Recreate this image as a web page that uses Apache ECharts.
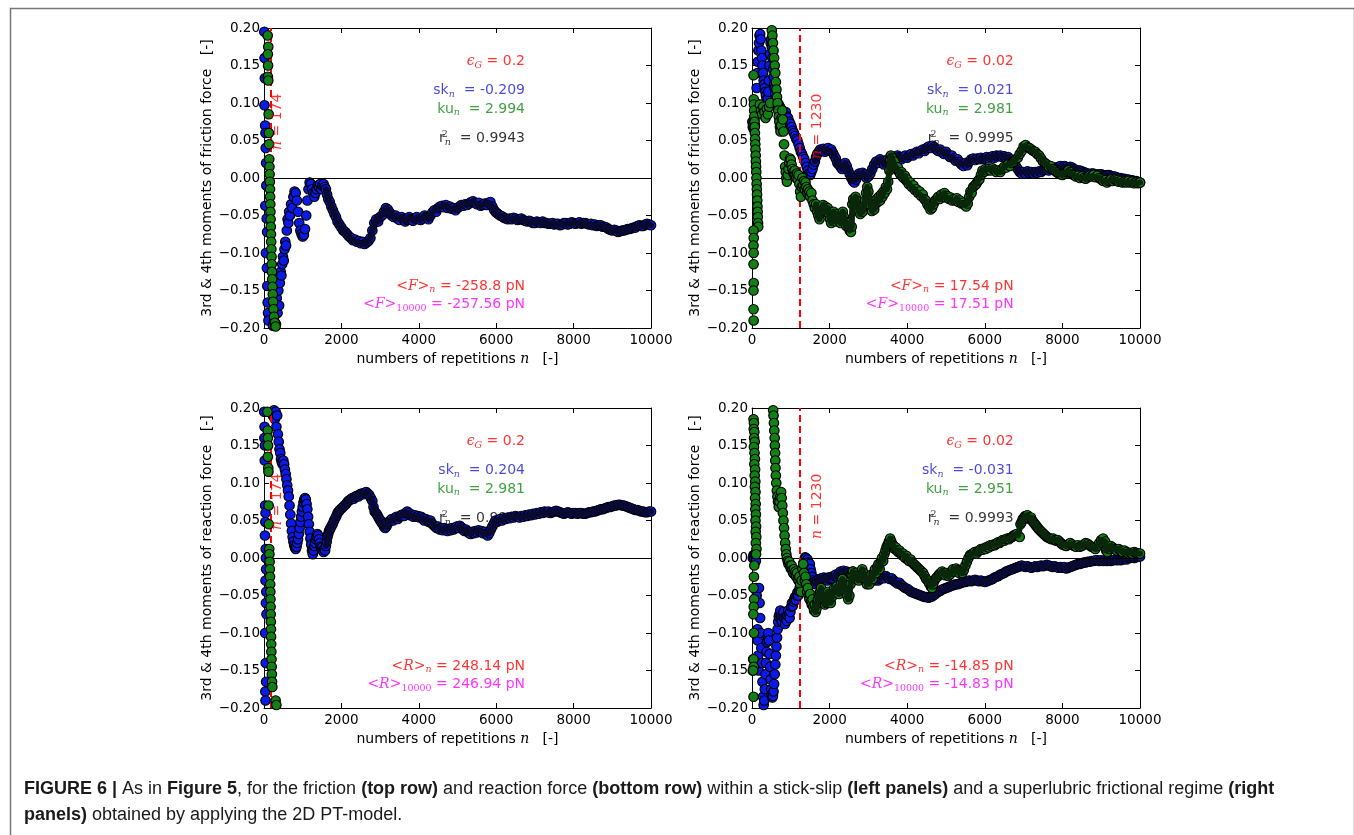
<!DOCTYPE html>
<html>
<head>
<meta charset="utf-8">
<script src="https://cdn.jsdelivr.net/npm/echarts@6/dist/echarts.min.js"></script>
<style>
html,body{margin:0;padding:0;background:#fff;}
#chart{width:1354px;height:835px;}
</style>
</head>
<body>
<div id="chart"></div>
<script>
// ---- running 3rd (skewness) and 4th (kurtosis) moment estimates, [n, value] ----
// "...0" arrays hold the scattered first repetitions, the others the running trajectory.

// friction force, stick-slip regime (epsilon_G = 0.2)
const skF_stick0 = [[8,0.195],[15,0.16],[22,0.133],[12,0.097],[30,0.07],[38,0.06],[45,0.04],[55,0.02],[60,-0.01],[35,-0.037],[70,-0.054],[80,-0.072],[50,-0.1],[75,-0.12],[85,-0.144],[95,-0.166],[105,-0.18],[115,-0.19]];
const skF_stick = [[230,-0.197],[260,-0.19],[290,-0.175],[310,-0.195],[330,-0.16],[350,-0.18],[370,-0.15],[390,-0.17],[410,-0.14],[430,-0.125],[450,-0.13],[470,-0.115],[490,-0.105],[510,-0.11],[530,-0.095],[550,-0.085],[570,-0.09],[590,-0.07],[610,-0.055],[630,-0.06],[650,-0.045],[670,-0.05],[700,-0.035],[730,-0.04],[760,-0.025],[790,-0.018],[820,-0.02],[850,-0.03],[880,-0.045],[910,-0.06],[940,-0.07],[970,-0.075],[1000,-0.078],[1030,-0.076],[1060,-0.068],[1090,-0.05],[1120,-0.03],[1150,-0.015],[1180,-0.006],[1210,-0.008],[1240,-0.015],[1270,-0.02],[1300,-0.025],[1330,-0.02],[1360,-0.015],[1390,-0.01],[1420,-0.012],[1450,-0.008],[1480,-0.015],[1510,-0.01],[1540,-0.008],[1570,-0.012],[1600,-0.015],[1630,-0.022],[1660,-0.028],[1700,-0.032],[1740,-0.038],[1780,-0.043],[1820,-0.048],[1860,-0.052],[1900,-0.058],[1950,-0.062],[2000,-0.066],[2050,-0.07],[2100,-0.072],[2150,-0.075],[2200,-0.078],[2250,-0.08],[2300,-0.083],[2350,-0.082],[2400,-0.085],[2450,-0.084],[2500,-0.087],[2550,-0.085],[2600,-0.088],[2650,-0.086],[2700,-0.084],[2750,-0.08],[2800,-0.07],[2850,-0.06],[2900,-0.055],[2950,-0.058],[3000,-0.052],[3050,-0.05],[3100,-0.045],[3150,-0.04],[3200,-0.042],[3250,-0.046],[3300,-0.05],[3350,-0.052],[3400,-0.05],[3450,-0.054],[3500,-0.056],[3550,-0.052],[3600,-0.055],[3650,-0.058],[3700,-0.056],[3750,-0.052],[3800,-0.055],[3850,-0.057],[3900,-0.054],[3950,-0.052],[4000,-0.055],[4050,-0.056],[4100,-0.054],[4150,-0.05],[4200,-0.052],[4250,-0.055],[4300,-0.05],[4350,-0.046],[4400,-0.043],[4450,-0.045],[4500,-0.04],[4550,-0.038],[4600,-0.037],[4650,-0.039],[4700,-0.036],[4750,-0.04],[4800,-0.038],[4850,-0.041],[4900,-0.04],[4950,-0.043],[5000,-0.04],[5050,-0.038],[5100,-0.036],[5150,-0.037],[5200,-0.035],[5250,-0.036],[5300,-0.034],[5350,-0.032],[5400,-0.031],[5450,-0.033],[5500,-0.035],[5550,-0.033],[5600,-0.037],[5650,-0.036],[5700,-0.034],[5750,-0.036],[5800,-0.033],[5850,-0.032],[5900,-0.038],[5950,-0.043],[6000,-0.046],[6050,-0.048],[6100,-0.05],[6150,-0.051],[6200,-0.053],[6250,-0.054],[6300,-0.055],[6350,-0.054],[6400,-0.055],[6450,-0.053],[6500,-0.054],[6550,-0.056],[6600,-0.055],[6650,-0.054],[6700,-0.056],[6750,-0.057],[6800,-0.058],[6850,-0.057],[6900,-0.058],[6950,-0.06],[7000,-0.06],[7050,-0.058],[7100,-0.059],[7150,-0.06],[7200,-0.058],[7250,-0.06],[7300,-0.06],[7350,-0.061],[7400,-0.061],[7450,-0.06],[7500,-0.062],[7550,-0.061],[7600,-0.061],[7650,-0.063],[7700,-0.062],[7750,-0.06],[7800,-0.06],[7850,-0.062],[7900,-0.061],[7950,-0.059],[8000,-0.06],[8050,-0.061],[8100,-0.06],[8150,-0.059],[8200,-0.061],[8250,-0.06],[8300,-0.06],[8350,-0.061],[8400,-0.062],[8450,-0.061],[8500,-0.063],[8550,-0.062],[8600,-0.064],[8650,-0.063],[8700,-0.063],[8750,-0.065],[8800,-0.065],[8850,-0.066],[8900,-0.068],[8950,-0.069],[9000,-0.07],[9050,-0.069],[9100,-0.07],[9150,-0.072],[9200,-0.071],[9250,-0.07],[9300,-0.07],[9350,-0.069],[9400,-0.068],[9450,-0.068],[9500,-0.067],[9550,-0.066],[9600,-0.066],[9650,-0.064],[9700,-0.063],[9750,-0.064],[9800,-0.064],[9850,-0.062],[9900,-0.061],[9950,-0.062],[10000,-0.063]];
const kuF_stick0 = [[95,0.19],[110,0.175],[100,0.165],[105,0.15],[100,0.135],[110,0.13],[120,0.085],[125,0.06],[130,0.045],[135,0.025],[140,0.015],[145,0.005],[150,-0.005],[155,-0.015],[158,-0.025],[162,-0.035],[166,-0.045],[170,-0.055],[175,-0.065],[180,-0.075],[185,-0.085],[190,-0.095],[195,-0.105],[200,-0.115],[205,-0.125],[212,-0.135],[220,-0.145],[228,-0.155],[236,-0.165],[245,-0.175],[260,-0.185],[280,-0.193],[300,-0.198]];
const kuF_stick = [];

// friction force, superlubric regime (epsilon_G = 0.02)
const skF_super0 = [];
const skF_super = [[10,0.075],[20,0.068],[30,0.072],[45,0.065],[60,0.078],[75,0.07],[90,0.085],[105,0.1],[120,0.12],[135,0.14],[150,0.155],[165,0.17],[180,0.18],[195,0.19],[210,0.192],[225,0.185],[240,0.17],[255,0.16],[270,0.15],[285,0.14],[300,0.13],[315,0.125],[330,0.12],[345,0.115],[360,0.11],[375,0.105],[390,0.1],[405,0.105],[420,0.115],[435,0.13],[450,0.15],[465,0.165],[480,0.18],[495,0.185],[510,0.175],[525,0.16],[540,0.145],[555,0.135],[570,0.125],[585,0.12],[600,0.113],[630,0.105],[660,0.1],[690,0.098],[720,0.095],[750,0.092],[780,0.09],[810,0.088],[840,0.085],[870,0.088],[900,0.082],[930,0.08],[960,0.075],[990,0.072],[1020,0.068],[1050,0.063],[1080,0.06],[1110,0.056],[1140,0.052],[1170,0.05],[1200,0.045],[1230,0.04],[1260,0.035],[1290,0.032],[1320,0.028],[1350,0.025],[1380,0.02],[1410,0.015],[1440,0.01],[1470,0.006],[1500,0.004],[1530,0.008],[1560,0.012],[1590,0.018],[1620,0.022],[1650,0.028],[1680,0.032],[1720,0.035],[1760,0.038],[1800,0.036],[1840,0.039],[1880,0.035],[1920,0.038],[1960,0.04],[2000,0.036],[2040,0.038],[2080,0.034],[2120,0.03],[2160,0.026],[2200,0.02],[2240,0.018],[2280,0.015],[2320,0.012],[2360,0.015],[2400,0.02],[2440,0.016],[2480,0.01],[2520,0.005],[2560,0.0],[2600,-0.004],[2640,-0.006],[2680,-0.002],[2720,0.004],[2760,0.006],[2800,0.004],[2850,0.007],[2900,0.005],[2950,0.0],[3000,0.002],[3050,0.006],[3100,0.012],[3150,0.018],[3200,0.022],[3250,0.02],[3300,0.025],[3350,0.022],[3400,0.018],[3450,0.022],[3500,0.025],[3550,0.02],[3600,0.024],[3650,0.028],[3700,0.026],[3750,0.03],[3800,0.028],[3850,0.025],[3900,0.028],[3950,0.03],[4000,0.027],[4050,0.03],[4100,0.032],[4150,0.03],[4200,0.033],[4250,0.035],[4300,0.033],[4350,0.036],[4400,0.038],[4450,0.036],[4500,0.04],[4550,0.042],[4600,0.04],[4650,0.043],[4700,0.041],[4750,0.038],[4800,0.036],[4850,0.038],[4900,0.034],[4950,0.032],[5000,0.035],[5050,0.031],[5100,0.028],[5150,0.03],[5200,0.026],[5250,0.023],[5300,0.025],[5350,0.021],[5400,0.018],[5450,0.016],[5500,0.02],[5550,0.017],[5600,0.022],[5650,0.025],[5700,0.026],[5750,0.024],[5800,0.026],[5850,0.025],[5900,0.027],[5950,0.025],[6000,0.026],[6050,0.028],[6100,0.026],[6150,0.028],[6200,0.029],[6250,0.027],[6300,0.03],[6350,0.029],[6400,0.03],[6450,0.028],[6500,0.029],[6550,0.027],[6600,0.028],[6650,0.025],[6700,0.022],[6750,0.02],[6800,0.016],[6850,0.012],[6900,0.008],[6950,0.006],[7000,0.008],[7050,0.006],[7100,0.009],[7150,0.007],[7200,0.008],[7250,0.006],[7300,0.008],[7350,0.007],[7400,0.009],[7450,0.008],[7500,0.01],[7550,0.011],[7600,0.012],[7650,0.01],[7700,0.012],[7750,0.013],[7800,0.014],[7850,0.012],[7900,0.015],[7950,0.016],[8000,0.014],[8050,0.016],[8100,0.015],[8150,0.013],[8200,0.015],[8250,0.014],[8300,0.012],[8350,0.011],[8400,0.01],[8450,0.01],[8500,0.009],[8550,0.008],[8600,0.007],[8650,0.006],[8700,0.005],[8750,0.006],[8800,0.006],[8850,0.005],[8900,0.004],[8950,0.005],[9000,0.005],[9050,0.004],[9100,0.003],[9150,0.004],[9200,0.004],[9250,0.003],[9300,0.002],[9350,0.002],[9400,0.001],[9450,0.0],[9500,0.0],[9550,-0.001],[9600,-0.001],[9650,-0.002],[9700,-0.002],[9750,-0.003],[9800,-0.003],[9850,-0.004],[9900,-0.004],[9950,-0.005],[10000,-0.006]];
const kuF_super0 = [[40,0.137],[45,0.105],[50,0.098],[55,0.09],[60,0.082],[65,0.075],[70,0.068],[75,0.06],[80,0.052],[85,0.045],[90,0.038],[95,0.03],[100,0.022],[105,0.015],[110,0.008],[115,0.0],[120,-0.008],[125,-0.015],[130,-0.022],[135,-0.03],[140,-0.038],[145,-0.045],[150,-0.052],[155,-0.06],[160,-0.065],[40,-0.07],[45,-0.08],[38,-0.09],[42,-0.1],[40,-0.115],[44,-0.14],[38,-0.15],[40,-0.175],[42,-0.19],
[200,0.098],[230,0.09],[260,0.085],[290,0.095],[320,0.088],[350,0.08],[380,0.092],[410,0.085],[440,0.095],[470,0.1]];
const kuF_super = [[510,0.197],[525,0.19],[540,0.18],[555,0.17],[570,0.16],[585,0.15],[600,0.14],[615,0.128],[630,0.118],[645,0.108],[660,0.1],[675,0.09],[690,0.082],[705,0.075],[720,0.068],[735,0.062],[750,0.07],[765,0.08],[780,0.09],[795,0.078],[810,0.062],[825,0.045],[840,0.03],[855,0.015],[870,0.008],[885,0.0],[900,-0.005],[920,0.004],[940,0.012],[960,0.02],[980,0.026],[1000,0.024],[1020,0.018],[1040,0.012],[1060,0.008],[1080,0.005],[1100,0.01],[1120,0.004],[1140,0.0],[1160,0.006],[1180,-0.002],[1200,0.004],[1220,-0.008],[1240,-0.018],[1260,-0.025],[1280,-0.012],[1300,0.0],[1320,-0.01],[1340,-0.004],[1360,-0.015],[1380,-0.006],[1400,-0.012],[1420,-0.02],[1440,-0.015],[1460,-0.022],[1480,-0.018],[1500,-0.025],[1530,-0.02],[1560,-0.03],[1590,-0.035],[1620,-0.04],[1650,-0.035],[1680,-0.045],[1710,-0.05],[1740,-0.055],[1770,-0.047],[1800,-0.04],[1830,-0.036],[1860,-0.042],[1890,-0.038],[1920,-0.045],[1950,-0.04],[1980,-0.048],[2010,-0.055],[2040,-0.06],[2070,-0.052],[2100,-0.045],[2130,-0.05],[2160,-0.058],[2190,-0.055],[2220,-0.048],[2250,-0.054],[2280,-0.06],[2310,-0.052],[2340,-0.045],[2370,-0.052],[2400,-0.058],[2430,-0.064],[2460,-0.06],[2490,-0.066],[2520,-0.07],[2550,-0.072],[2570,-0.065],[2585,-0.035],[2610,-0.028],[2640,-0.032],[2670,-0.025],[2700,-0.03],[2730,-0.038],[2760,-0.045],[2790,-0.048],[2820,-0.042],[2850,-0.045],[2880,-0.038],[2910,-0.03],[2940,-0.02],[2970,-0.012],[3000,-0.018],[3030,-0.03],[3060,-0.038],[3090,-0.044],[3120,-0.038],[3150,-0.042],[3180,-0.035],[3210,-0.028],[3240,-0.032],[3270,-0.025],[3300,-0.03],[3330,-0.022],[3360,-0.025],[3390,-0.018],[3420,-0.02],[3450,-0.012],[3480,-0.015],[3510,-0.005],[3540,0.01],[3560,0.025],[3580,0.03],[3610,0.027],[3640,0.02],[3670,0.022],[3700,0.015],[3730,0.012],[3760,0.014],[3790,0.008],[3820,0.005],[3850,0.008],[3880,0.002],[3910,0.0],[3940,0.003],[3970,-0.003],[4000,-0.002],[4040,-0.008],[4080,-0.006],[4120,-0.012],[4160,-0.01],[4200,-0.016],[4240,-0.015],[4280,-0.02],[4320,-0.018],[4360,-0.024],[4400,-0.022],[4440,-0.028],[4480,-0.03],[4520,-0.035],[4560,-0.038],[4600,-0.042],[4640,-0.04],[4680,-0.035],[4720,-0.03],[4760,-0.028],[4800,-0.025],[4840,-0.028],[4880,-0.022],[4920,-0.025],[4960,-0.02],[5000,-0.026],[5040,-0.024],[5080,-0.028],[5120,-0.026],[5160,-0.03],[5200,-0.028],[5240,-0.03],[5280,-0.027],[5320,-0.032],[5360,-0.03],[5400,-0.034],[5440,-0.033],[5480,-0.036],[5520,-0.038],[5560,-0.034],[5600,-0.025],[5630,-0.018],[5660,-0.02],[5700,-0.012],[5740,-0.01],[5780,-0.008],[5820,-0.004],[5860,-0.002],[5900,0.004],[5940,0.01],[5980,0.008],[6020,0.012],[6060,0.01],[6100,0.012],[6150,0.01],[6200,0.013],[6250,0.011],[6300,0.008],[6350,0.01],[6400,0.008],[6450,0.012],[6500,0.015],[6550,0.014],[6600,0.018],[6650,0.016],[6700,0.02],[6750,0.022],[6800,0.025],[6850,0.027],[6900,0.032],[6950,0.036],[7000,0.042],[7050,0.044],[7100,0.041],[7150,0.04],[7200,0.038],[7250,0.036],[7300,0.035],[7350,0.032],[7400,0.03],[7450,0.026],[7500,0.022],[7550,0.02],[7600,0.018],[7650,0.015],[7700,0.016],[7750,0.012],[7800,0.01],[7850,0.008],[7900,0.006],[7950,0.005],[8000,0.004],[8050,0.006],[8100,0.008],[8150,0.01],[8200,0.008],[8250,0.005],[8300,0.004],[8350,0.002],[8400,0.003],[8450,0.0],[8500,0.002],[8550,0.0],[8600,-0.001],[8650,0.001],[8700,0.003],[8750,0.002],[8800,0.004],[8850,0.001],[8900,0.003],[8950,0.0],[9000,-0.002],[9050,-0.004],[9100,-0.003],[9150,-0.006],[9200,-0.004],[9250,-0.002],[9300,-0.004],[9350,-0.002],[9400,-0.003],[9450,-0.005],[9500,-0.004],[9550,-0.006],[9600,-0.005],[9650,-0.006],[9700,-0.004],[9750,-0.006],[9800,-0.005],[9850,-0.007],[9900,-0.006],[9950,-0.007],[10000,-0.006]];

// reaction force, stick-slip regime (epsilon_G = 0.2)
const skR_stick0 = [[5,0.195],[15,0.175],[10,0.16],[25,0.15],[20,0.13],[30,0.07],[40,0.06],[35,0.048],[25,0.03],[45,0.012],[50,0.0],[55,-0.015],[40,-0.03],[60,-0.045],[50,-0.06],[65,-0.075],[30,-0.1],[45,-0.14],[55,-0.165],[35,-0.178],[40,-0.19]];
const skR_stick = [[200,0.195],[230,0.19],[260,0.197],[280,0.185],[300,0.195],[320,0.175],[340,0.19],[360,0.165],[380,0.155],[400,0.145],[420,0.14],[440,0.132],[460,0.128],[480,0.125],[500,0.13],[520,0.125],[540,0.118],[560,0.112],[580,0.105],[600,0.097],[620,0.09],[640,0.082],[660,0.07],[680,0.058],[700,0.046],[720,0.036],[740,0.028],[760,0.022],[780,0.017],[800,0.014],[820,0.012],[840,0.015],[860,0.02],[880,0.025],[900,0.032],[920,0.04],[940,0.048],[960,0.055],[980,0.062],[1000,0.068],[1020,0.074],[1040,0.078],[1060,0.08],[1080,0.078],[1100,0.072],[1120,0.065],[1140,0.055],[1160,0.045],[1180,0.035],[1200,0.026],[1220,0.018],[1240,0.01],[1260,0.005],[1280,0.01],[1300,0.016],[1320,0.02],[1340,0.025],[1360,0.028],[1380,0.032],[1400,0.03],[1420,0.025],[1440,0.02],[1460,0.015],[1480,0.012],[1500,0.014],[1520,0.01],[1540,0.008],[1560,0.012],[1580,0.01],[1600,0.016],[1620,0.022],[1640,0.028],[1660,0.032],[1680,0.036],[1700,0.038],[1720,0.04],[1750,0.043],[1780,0.046],[1810,0.05],[1840,0.053],[1870,0.056],[1900,0.06],[1930,0.062],[1960,0.064],[2000,0.066],[2040,0.068],[2080,0.07],[2120,0.072],[2160,0.075],[2200,0.077],[2240,0.078],[2280,0.08],[2320,0.079],[2360,0.082],[2400,0.083],[2440,0.082],[2480,0.085],[2520,0.086],[2560,0.085],[2600,0.087],[2640,0.088],[2680,0.086],[2720,0.084],[2760,0.08],[2800,0.076],[2830,0.068],[2860,0.062],[2890,0.06],[2920,0.058],[2950,0.055],[2980,0.052],[3010,0.05],[3040,0.047],[3070,0.045],[3100,0.042],[3130,0.04],[3160,0.042],[3190,0.045],[3220,0.048],[3260,0.05],[3300,0.052],[3340,0.05],[3380,0.053],[3420,0.055],[3460,0.052],[3500,0.055],[3540,0.057],[3580,0.058],[3620,0.056],[3660,0.06],[3700,0.062],[3740,0.06],[3780,0.057],[3820,0.058],[3860,0.055],[3900,0.057],[3940,0.055],[3980,0.056],[4020,0.054],[4060,0.055],[4100,0.053],[4140,0.05],[4180,0.052],[4220,0.05],[4260,0.048],[4300,0.05],[4340,0.046],[4380,0.044],[4420,0.042],[4460,0.04],[4500,0.042],[4540,0.038],[4580,0.04],[4620,0.037],[4660,0.04],[4700,0.038],[4740,0.036],[4780,0.039],[4820,0.037],[4860,0.04],[4900,0.038],[4940,0.04],[4980,0.042],[5020,0.04],[5060,0.043],[5100,0.041],[5140,0.038],[5180,0.036],[5220,0.038],[5260,0.035],[5300,0.033],[5340,0.032],[5380,0.035],[5420,0.033],[5460,0.036],[5500,0.034],[5540,0.037],[5580,0.035],[5620,0.036],[5660,0.033],[5700,0.035],[5740,0.032],[5780,0.03],[5820,0.033],[5860,0.038],[5900,0.042],[5940,0.046],[5980,0.05],[6020,0.048],[6060,0.05],[6100,0.052],[6150,0.05],[6200,0.053],[6250,0.052],[6300,0.054],[6350,0.053],[6400,0.055],[6450,0.054],[6500,0.056],[6550,0.055],[6600,0.054],[6650,0.056],[6700,0.055],[6750,0.057],[6800,0.056],[6850,0.058],[6900,0.057],[6950,0.059],[7000,0.058],[7050,0.06],[7100,0.059],[7150,0.061],[7200,0.06],[7250,0.062],[7300,0.061],[7350,0.062],[7400,0.06],[7450,0.061],[7500,0.062],[7550,0.063],[7600,0.062],[7650,0.061],[7700,0.06],[7750,0.059],[7800,0.06],[7850,0.061],[7900,0.06],[7950,0.059],[8000,0.06],[8050,0.06],[8100,0.059],[8150,0.06],[8200,0.06],[8250,0.059],[8300,0.059],[8350,0.06],[8400,0.061],[8450,0.061],[8500,0.062],[8550,0.062],[8600,0.063],[8650,0.064],[8700,0.065],[8750,0.065],[8800,0.066],[8850,0.067],[8900,0.068],[8950,0.068],[9000,0.069],[9050,0.07],[9100,0.07],[9150,0.071],[9200,0.071],[9250,0.07],[9300,0.07],[9350,0.069],[9400,0.068],[9450,0.067],[9500,0.066],[9550,0.065],[9600,0.064],[9650,0.064],[9700,0.063],[9750,0.062],[9800,0.062],[9850,0.061],[9900,0.061],[9950,0.062],[10000,0.062]];
const kuR_stick0 = [[90,0.195],[95,0.17],[100,0.16],[105,0.15],[100,0.135],[110,0.12],[115,0.115],[120,0.07],[125,0.045],[135,0.012],[140,0.005],[145,-0.005],[150,-0.015],[155,-0.025],[160,-0.035],[163,-0.045],[166,-0.055],[170,-0.065],[173,-0.075],[176,-0.085],[180,-0.095],[183,-0.105],[186,-0.115],[190,-0.125],[194,-0.135],[198,-0.145],[203,-0.155],[208,-0.165],[215,-0.172],[300,-0.19],[320,-0.196]];
const kuR_stick = [];

// reaction force, superlubric regime (epsilon_G = 0.02)
const skR_super0 = [[20,0.0],[40,0.004],[60,-0.002],[80,0.005],[100,-0.004],[110,-0.04],[120,-0.05],[130,-0.06],[140,-0.095],[150,-0.11],[160,-0.13],[170,-0.15],[30,-0.135],[20,-0.15]];
const skR_super = [[180,-0.04],[195,-0.06],[210,-0.08],[225,-0.1],[240,-0.12],[255,-0.14],[270,-0.165],[285,-0.185],[300,-0.196],[315,-0.19],[330,-0.175],[345,-0.155],[360,-0.14],[375,-0.125],[390,-0.112],[405,-0.105],[420,-0.1],[435,-0.11],[450,-0.128],[465,-0.145],[480,-0.162],[495,-0.175],[510,-0.182],[525,-0.186],[540,-0.184],[555,-0.178],[570,-0.168],[585,-0.155],[600,-0.142],[615,-0.13],[630,-0.118],[645,-0.106],[660,-0.095],[675,-0.085],[690,-0.078],[710,-0.075],[730,-0.07],[750,-0.078],[770,-0.085],[790,-0.078],[810,-0.072],[830,-0.08],[850,-0.088],[870,-0.08],[890,-0.084],[910,-0.076],[930,-0.07],[950,-0.075],[970,-0.08],[990,-0.072],[1010,-0.065],[1030,-0.06],[1050,-0.064],[1070,-0.058],[1090,-0.055],[1110,-0.052],[1130,-0.056],[1150,-0.05],[1170,-0.046],[1190,-0.05],[1210,-0.044],[1230,-0.04],[1250,-0.035],[1270,-0.028],[1290,-0.02],[1310,-0.012],[1330,-0.006],[1350,-0.002],[1370,0.001],[1390,0.0],[1410,-0.004],[1430,-0.002],[1450,-0.006],[1470,-0.01],[1490,-0.008],[1510,-0.015],[1530,-0.02],[1550,-0.025],[1570,-0.03],[1590,-0.034],[1610,-0.032],[1640,-0.035],[1670,-0.03],[1700,-0.033],[1730,-0.028],[1760,-0.031],[1790,-0.027],[1820,-0.03],[1850,-0.026],[1880,-0.029],[1910,-0.027],[1940,-0.03],[1970,-0.026],[2000,-0.028],[2040,-0.025],[2080,-0.027],[2120,-0.024],[2160,-0.022],[2200,-0.025],[2240,-0.021],[2280,-0.018],[2320,-0.02],[2360,-0.017],[2400,-0.02],[2440,-0.018],[2480,-0.021],[2520,-0.019],[2560,-0.02],[2600,-0.018],[2640,-0.021],[2680,-0.02],[2720,-0.022],[2760,-0.02],[2800,-0.023],[2850,-0.025],[2900,-0.022],[2950,-0.025],[3000,-0.027],[3050,-0.025],[3100,-0.028],[3150,-0.03],[3200,-0.027],[3250,-0.03],[3300,-0.028],[3350,-0.025],[3400,-0.027],[3450,-0.024],[3500,-0.026],[3550,-0.028],[3600,-0.027],[3650,-0.03],[3700,-0.032],[3750,-0.034],[3800,-0.033],[3850,-0.036],[3900,-0.038],[3950,-0.04],[4000,-0.041],[4050,-0.043],[4100,-0.045],[4150,-0.046],[4200,-0.047],[4250,-0.048],[4300,-0.049],[4350,-0.05],[4400,-0.051],[4450,-0.052],[4500,-0.052],[4550,-0.053],[4600,-0.052],[4650,-0.051],[4700,-0.049],[4750,-0.047],[4800,-0.045],[4850,-0.044],[4900,-0.042],[4950,-0.041],[5000,-0.04],[5050,-0.039],[5100,-0.038],[5150,-0.037],[5200,-0.036],[5250,-0.035],[5300,-0.035],[5350,-0.034],[5400,-0.033],[5450,-0.032],[5500,-0.032],[5550,-0.031],[5600,-0.03],[5650,-0.031],[5700,-0.03],[5750,-0.029],[5800,-0.03],[5850,-0.031],[5900,-0.03],[5950,-0.031],[6000,-0.032],[6050,-0.031],[6100,-0.03],[6150,-0.029],[6200,-0.028],[6250,-0.026],[6300,-0.025],[6350,-0.024],[6400,-0.022],[6450,-0.021],[6500,-0.02],[6550,-0.018],[6600,-0.017],[6650,-0.016],[6700,-0.015],[6750,-0.014],[6800,-0.013],[6850,-0.012],[6900,-0.011],[6950,-0.01],[7000,-0.011],[7050,-0.012],[7100,-0.011],[7150,-0.012],[7200,-0.013],[7250,-0.012],[7300,-0.011],[7350,-0.012],[7400,-0.011],[7450,-0.01],[7500,-0.011],[7550,-0.01],[7600,-0.009],[7650,-0.01],[7700,-0.011],[7750,-0.012],[7800,-0.011],[7850,-0.012],[7900,-0.013],[7950,-0.012],[8000,-0.013],[8050,-0.012],[8100,-0.014],[8150,-0.013],[8200,-0.012],[8250,-0.011],[8300,-0.01],[8350,-0.009],[8400,-0.008],[8450,-0.008],[8500,-0.007],[8550,-0.006],[8600,-0.006],[8650,-0.005],[8700,-0.005],[8750,-0.004],[8800,-0.004],[8850,-0.003],[8900,-0.003],[8950,-0.004],[9000,-0.003],[9050,-0.004],[9100,-0.003],[9150,-0.004],[9200,-0.003],[9250,-0.004],[9300,-0.003],[9350,-0.002],[9400,-0.003],[9450,-0.002],[9500,-0.003],[9550,-0.002],[9600,-0.001],[9650,-0.002],[9700,0.0],[9750,0.0],[9800,0.001],[9850,0.0],[9900,0.001],[9950,0.002],[10000,0.002]];
const kuR_super0 = [[40,0.185],[50,0.18],[45,0.172],[60,0.168],[55,0.16],[70,0.155],[50,0.148],[65,0.14],[75,0.132],[60,0.125],[80,0.118],[70,0.11],[85,0.102],[75,0.095],[90,0.088],[80,0.08],[95,0.072],[85,0.065],[100,0.058],[90,0.05],[105,0.042],[95,0.035],[110,0.028],[100,0.02],[115,0.012],[105,0.005],[60,-0.01],[50,-0.025],[40,-0.04],[55,-0.055],[45,-0.065],[35,-0.075],[50,-0.1],[40,-0.135],[45,-0.145],[30,-0.15],[40,-0.185]];
const kuR_super = [[545,0.197],[555,0.19],[565,0.18],[575,0.17],[585,0.16],[590,0.15],[595,0.14],[600,0.13],[605,0.12],[615,0.11],[625,0.1],[640,0.09],[655,0.082],[670,0.075],[690,0.068],[710,0.075],[730,0.082],[750,0.088],[765,0.08],[780,0.07],[795,0.06],[810,0.05],[825,0.04],[840,0.03],[855,0.02],[870,0.012],[885,0.005],[900,0.0],[920,-0.004],[940,-0.008],[960,-0.005],[980,-0.01],[1000,-0.014],[1020,-0.01],[1040,-0.016],[1060,-0.02],[1080,-0.015],[1100,-0.022],[1120,-0.018],[1140,-0.025],[1160,-0.02],[1180,-0.028],[1200,-0.03],[1220,-0.025],[1240,-0.035],[1260,-0.045],[1280,-0.03],[1300,-0.015],[1320,-0.008],[1340,-0.02],[1360,-0.03],[1380,-0.025],[1400,-0.035],[1420,-0.045],[1440,-0.04],[1460,-0.05],[1480,-0.055],[1500,-0.048],[1520,-0.058],[1540,-0.062],[1560,-0.055],[1580,-0.065],[1600,-0.07],[1620,-0.062],[1640,-0.072],[1660,-0.068],[1680,-0.06],[1700,-0.055],[1720,-0.048],[1740,-0.052],[1760,-0.045],[1780,-0.04],[1800,-0.048],[1820,-0.055],[1840,-0.05],[1860,-0.058],[1880,-0.062],[1900,-0.055],[1920,-0.06],[1940,-0.052],[1960,-0.045],[1980,-0.05],[2000,-0.055],[2030,-0.06],[2060,-0.052],[2090,-0.045],[2120,-0.04],[2150,-0.045],[2180,-0.038],[2210,-0.042],[2240,-0.048],[2270,-0.04],[2300,-0.033],[2330,-0.028],[2360,-0.035],[2390,-0.04],[2420,-0.046],[2450,-0.05],[2480,-0.055],[2510,-0.05],[2540,-0.035],[2570,-0.022],[2600,-0.018],[2630,-0.025],[2660,-0.02],[2690,-0.028],[2720,-0.024],[2750,-0.03],[2780,-0.026],[2810,-0.02],[2840,-0.015],[2870,-0.02],[2900,-0.025],[2930,-0.03],[2960,-0.035],[2990,-0.03],[3020,-0.035],[3050,-0.028],[3080,-0.022],[3110,-0.028],[3140,-0.02],[3170,-0.015],[3200,-0.02],[3230,-0.012],[3260,-0.008],[3290,-0.015],[3320,-0.006],[3350,0.0],[3380,-0.004],[3410,0.005],[3440,0.01],[3470,0.015],[3500,0.018],[3530,0.022],[3560,0.026],[3590,0.022],[3620,0.018],[3650,0.016],[3680,0.012],[3710,0.014],[3740,0.01],[3770,0.008],[3800,0.01],[3830,0.006],[3860,0.004],[3890,0.006],[3920,0.002],[3950,0.0],[3980,0.003],[4010,-0.002],[4050,-0.004],[4090,-0.002],[4130,-0.006],[4170,-0.008],[4210,-0.01],[4250,-0.012],[4290,-0.014],[4330,-0.016],[4370,-0.018],[4410,-0.02],[4450,-0.024],[4490,-0.028],[4530,-0.03],[4570,-0.034],[4610,-0.038],[4640,-0.04],[4670,-0.035],[4700,-0.03],[4740,-0.027],[4780,-0.025],[4820,-0.022],[4860,-0.02],[4900,-0.018],[4940,-0.02],[4980,-0.023],[5020,-0.02],[5060,-0.024],[5100,-0.022],[5140,-0.018],[5180,-0.015],[5220,-0.018],[5260,-0.014],[5300,-0.016],[5340,-0.02],[5380,-0.017],[5420,-0.02],[5460,-0.016],[5500,-0.01],[5540,-0.005],[5580,0.0],[5620,0.004],[5660,0.005],[5700,0.006],[5740,0.008],[5780,0.006],[5820,0.009],[5860,0.01],[5900,0.012],[5940,0.011],[5980,0.013],[6020,0.012],[6060,0.015],[6100,0.014],[6140,0.017],[6180,0.016],[6220,0.018],[6260,0.017],[6300,0.019],[6340,0.021],[6380,0.02],[6420,0.022],[6460,0.024],[6500,0.023],[6540,0.025],[6580,0.026],[6620,0.025],[6660,0.027],[6700,0.028],[6740,0.03],[6780,0.031],[6820,0.032],[6860,0.03],[6900,0.028],[6920,0.045],[6950,0.048],[6980,0.052],[7010,0.054],[7040,0.056],[7070,0.055],[7100,0.057],[7130,0.054],[7160,0.052],[7190,0.054],[7220,0.05],[7250,0.048],[7280,0.046],[7310,0.044],[7340,0.042],[7370,0.04],[7400,0.038],[7440,0.036],[7480,0.034],[7520,0.032],[7560,0.03],[7600,0.028],[7640,0.027],[7680,0.026],[7720,0.025],[7760,0.026],[7800,0.024],[7840,0.023],[7880,0.024],[7920,0.022],[7960,0.02],[8000,0.018],[8050,0.017],[8100,0.016],[8150,0.018],[8200,0.02],[8250,0.018],[8300,0.016],[8350,0.015],[8400,0.017],[8450,0.015],[8500,0.016],[8550,0.018],[8600,0.02],[8650,0.019],[8700,0.017],[8750,0.015],[8800,0.014],[8850,0.012],[8900,0.016],[8950,0.02],[9000,0.024],[9050,0.026],[9100,0.022],[9130,0.01],[9160,0.008],[9200,0.012],[9250,0.016],[9300,0.014],[9350,0.012],[9400,0.01],[9450,0.012],[9500,0.01],[9550,0.008],[9600,0.01],[9650,0.008],[9700,0.006],[9750,0.007],[9800,0.006],[9850,0.008],[9900,0.007],[9950,0.006],[10000,0.006]];

// ---- per-panel statistics shown as annotations (TL, TR, BL, BR) ----
const nCrit   = [174, 1230, 174, 1230];
const epsG    = ['0.2', '0.02', '0.2', '0.02'];
const skN     = ['-0.209', '0.021', '0.204', '-0.031'];
const kuN     = ['2.994', '2.981', '2.981', '2.951'];
const r2N     = ['0.9943', '0.9995', '0.9991', '0.9993'];
const forceSym = ['F', 'F', 'R', 'R'];
const meanN   = ['-258.8', '17.54', '248.14', '-14.85'];
const mean10k = ['-257.56', '17.51', '246.94', '-14.83'];
const yTitles = ['3rd & 4th moments of friction force   [-]', '3rd & 4th moments of friction force   [-]',
                 '3rd & 4th moments of reaction force   [-]', '3rd & 4th moments of reaction force   [-]'];
const xTicks = [0, 2000, 4000, 6000, 8000, 10000];
const yTicks = [-0.20, -0.15, -0.10, -0.05, 0.00, 0.05, 0.10, 0.15, 0.20];

const skEarly = [skF_stick0, skF_super0, skR_stick0, skR_super0];
const skTraj  = [skF_stick, skF_super, skR_stick, skR_super];
const kuEarly = [kuF_stick0, kuF_super0, kuR_stick0, kuR_super0];
const kuTraj  = [kuF_stick, kuF_super, kuR_stick, kuR_super];

// ---- layout ----
const grids = [
  {left: 264, top: 28, width: 387, height: 300},
  {left: 752, top: 28, width: 388, height: 300},
  {left: 264, top: 408, width: 387, height: 300},
  {left: 752, top: 408, width: 388, height: 300}
];
const critLabelX = [350, 1680, 335, 1680];
const critLabelY = [0.075, 0.069, 0.075, 0.069];
const annX = 6745;
const denseFrom = 1600;   // beyond this n the overlapping markers merge into a dark band

const SANS = 'DejaVu Sans';
const SERIF = 'DejaVu Serif';
const BLUE = '#0a1ae8';
const GREEN = '#128014';
const BLUE_CORE = '#0a0a30';
const GREEN_CORE = '#0a260b';

function richFor(color) {
  return {
    s:  {fontFamily: SANS, fontSize: 14, color: color, lineHeight: 18},
    i:  {fontFamily: SERIF, fontStyle: 'italic', fontSize: 14, color: color, lineHeight: 18},
    m:  {fontFamily: SERIF, fontSize: 14, color: color, lineHeight: 18},
    sb: {fontFamily: SERIF, fontStyle: 'italic', fontSize: 9.5, color: color, lineHeight: 6, verticalAlign: 'bottom'},
    sr: {fontFamily: SERIF, fontSize: 9.5, color: color, lineHeight: 6, verticalAlign: 'bottom'},
    sp: {fontFamily: SERIF, fontSize: 9.5, color: color, lineHeight: 12, verticalAlign: 'top', width: 0, align: 'left'}
  };
}
function note(x, y, text, color) {
  return {value: [x, y], label: {show: true, position: 'left', distance: 0, formatter: text, rich: richFor(color)}};
}
function yFmt(v) {
  const a = Math.abs(v).toFixed(2);
  return (v < -1e-9 ? '\u2212' : '') + a;
}
function xFmt(v) {
  return String(Math.round(v));
}

const xAxes = [], yAxes = [], series = [];
function markerSeries(xi, yi, data, fill, z) {
  return {
    type: 'scatter', xAxisIndex: xi, yAxisIndex: yi, data: data, symbolSize: 9.5, z: z, silent: true,
    itemStyle: {color: fill, borderColor: '#000', borderWidth: 1.2, opacity: 1}
  };
}
function coreSeries(xi, yi, data, color, z) {
  return {
    type: 'line', xAxisIndex: xi, yAxisIndex: yi, data: data.filter(p => p[0] >= denseFrom),
    showSymbol: false, symbol: 'none', z: z, silent: true,
    lineStyle: {color: color, width: 6, cap: 'round', join: 'round', opacity: 1}
  };
}

grids.forEach((g, i) => {
  const axisLineStyle = {color: '#000', width: 1};
  xAxes.push({
    gridIndex: i, type: 'value', min: xTicks[0], max: xTicks[xTicks.length - 1], interval: 2000, position: 'bottom',
    axisLine: {show: true, onZero: false, lineStyle: axisLineStyle},
    axisTick: {show: true, inside: true, length: 5, lineStyle: axisLineStyle},
    axisLabel: {fontFamily: SANS, fontSize: 13.5, color: '#000', margin: 5, formatter: xFmt},
    splitLine: {show: false},
    name: '{a|numbers of repetitions }{i|n}{a|   [-]}', nameLocation: 'middle', nameGap: 24,
    nameTextStyle: {rich: {a: {fontFamily: SANS, fontSize: 14, color: '#000'}, i: {fontFamily: SERIF, fontStyle: 'italic', fontSize: 14, color: '#000'}}}
  });
  xAxes.push({
    gridIndex: i, type: 'value', min: 0, max: 10000, interval: 2000, position: 'top',
    axisLine: {show: true, onZero: false, lineStyle: axisLineStyle},
    axisTick: {show: true, inside: true, length: 5, lineStyle: axisLineStyle},
    axisLabel: {show: false}, splitLine: {show: false}
  });
  yAxes.push({
    gridIndex: i, type: 'value', min: yTicks[0], max: yTicks[yTicks.length - 1], interval: 0.05, position: 'left',
    axisLine: {show: true, onZero: false, lineStyle: axisLineStyle},
    axisTick: {show: true, inside: true, length: 5, lineStyle: axisLineStyle},
    axisLabel: {fontFamily: SANS, fontSize: 13.5, color: '#000', margin: 4, formatter: yFmt},
    splitLine: {show: false},
    name: yTitles[i], nameLocation: 'middle', nameGap: 47,
    nameTextStyle: {fontFamily: SANS, fontSize: 14, color: '#000'}
  });
  yAxes.push({
    gridIndex: i, type: 'value', min: -0.2, max: 0.2, interval: 0.05, position: 'right',
    axisLine: {show: true, onZero: false, lineStyle: axisLineStyle},
    axisTick: {show: true, inside: true, length: 5, lineStyle: axisLineStyle},
    axisLabel: {show: false}, splitLine: {show: false}
  });
  const xi = 2 * i, yi = 2 * i;

  // zero reference line
  series.push({
    type: 'line', xAxisIndex: xi, yAxisIndex: yi, data: [], silent: true, z: 1,
    markLine: {symbol: 'none', silent: true, label: {show: false},
      lineStyle: {color: '#000', width: 1, type: 'solid'}, data: [{yAxis: 0}]}
  });

  // text annotations (drawn beneath the markers)
  const F = forceSym[i];
  series.push({
    type: 'scatter', xAxisIndex: xi, yAxisIndex: yi, symbolSize: 0, silent: true, z: 1,
    data: [
      note(annX, 0.155, '{i|\u03f5}{sb|G}{s| = ' + epsG[i] + '}', '#ff0000'),
      note(annX, 0.117, '{s|sk}{sb|n}{s|  = ' + skN[i] + '}', '#1a1ad0'),
      note(annX, 0.092, '{s|ku}{sb|n}{s|  = ' + kuN[i] + '}', '#118a11'),
      note(annX, 0.053, '{s|r}{sp|2}{sb|n}{s|  = ' + r2N[i] + '}', '#000000'),
      note(annX, -0.144, '{m|<}{i|' + F + '}{m|>}{sb|n}{s| = ' + meanN[i] + ' pN}', '#ff0000'),
      note(annX, -0.169, '{m|<}{i|' + F + '}{m|>}{sr|10000}{s| = ' + mean10k[i] + ' pN}', '#ff00ff')
    ]
  });

  // skewness (blue) then kurtosis (green): markers, with the dense stretch darkened
  series.push(markerSeries(xi, yi, skEarly[i], BLUE, 3));
  series.push(markerSeries(xi, yi, skTraj[i], BLUE, 3));
  series.push(coreSeries(xi, yi, skTraj[i], BLUE_CORE, 4));
  series.push(markerSeries(xi, yi, kuEarly[i], GREEN, 5));
  series.push(markerSeries(xi, yi, kuTraj[i], GREEN, 5));
  series.push(coreSeries(xi, yi, kuTraj[i], GREEN_CORE, 6));

  // convergence threshold and its label
  series.push({
    type: 'line', xAxisIndex: xi, yAxisIndex: yi, data: [], silent: true, z: 8,
    markLine: {symbol: 'none', silent: true, label: {show: false},
      lineStyle: {color: '#ff0000', width: 2, type: [7, 4]}, data: [{xAxis: nCrit[i]}]}
  });
  series.push({
    type: 'scatter', xAxisIndex: xi, yAxisIndex: yi, symbolSize: 0, silent: true, z: 8,
    data: [{value: [critLabelX[i], critLabelY[i]], label: {show: true, position: 'inside', rotate: 90,
      formatter: '{i|n}{s| = ' + nCrit[i] + '}', rich: richFor('#ff0000')}}]
  });
});

const CAP = 'Liberation Sans';
const capRich = {
  b: {fontFamily: CAP, fontSize: 18, fontWeight: 'bold', fill: '#1a1a1a'},
  r: {fontFamily: CAP, fontSize: 18, fill: '#1a1a1a'}
};

const chart = echarts.init(document.getElementById('chart'), null, {renderer: 'canvas'});
chart.setOption({
  animation: false,
  backgroundColor: '#ffffff',
  grid: grids,
  xAxis: xAxes,
  yAxis: yAxes,
  series: series,
  graphic: [
    {type: 'rect', left: 8, top: 6, silent: true,
      shape: {x: 0, y: 0, width: 1344, height: 900},
      style: {fill: 'none', stroke: '#777', lineWidth: 1.5}},
    {type: 'text', left: 24, top: 780, silent: true,
      style: {text: '{b|FIGURE 6 |}{r| As in }{b|Figure 5}{r|, for the friction }{b|(top row)}{r| and reaction force }{b|(bottom row)}{r| within a stick-slip }{b|(left panels)}{r| and a superlubric frictional regime }{b|(right}',
        rich: capRich}},
    {type: 'text', left: 24, top: 806, silent: true,
      style: {text: '{b|panels)}{r| obtained by applying the 2D PT-model.}', rich: capRich}}
  ]
});
</script>
</body>
</html>
